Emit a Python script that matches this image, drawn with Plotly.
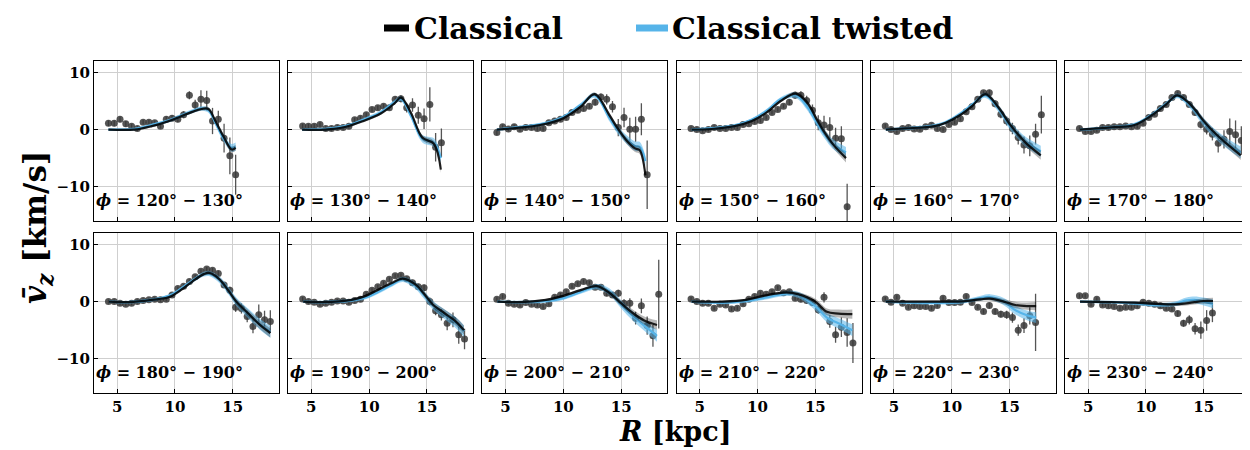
import numpy as np
import plotly.graph_objects as go
from plotly.subplots import make_subplots

# ---------------- data ----------------
R_BINS = [4.25, 4.75, 5.25, 5.75, 6.25, 6.75, 7.25, 7.75, 8.25, 8.75, 9.25, 9.75,
          10.25, 10.75, 11.25, 11.75, 12.25, 12.75, 13.25, 13.75, 14.25, 14.75,
          15.25, 15.75, 16.25, 16.75, 17.25, 17.75, 18.25]

PHI_BINS = ["120° − 130°", "130° − 140°", "140° − 150°", "150° − 160°",
            "160° − 170°", "170° − 180°", "180° − 190°", "190° − 200°",
            "200° − 210°", "210° − 220°", "220° − 230°", "230° − 240°"]

SERIES_NAMES = ["Classical", "Classical twisted"]

# observed mean vertical velocity (km/s) and errors per phi bin
V_120 = [1.1, 1.1, 1.8, 1.0, 0.6, 0.2, 1.3, 1.3, 1.2, 0.6, 1.8, 2.0, 1.8, 2.6, 6.0, 4.3,
         5.3, 5.1, 1.5, 1.8, -1.5, -4.6, -7.9]
E_120 = [0.5, 0.5, 0.5, 0.5, 0.4, 0.4, 0.4, 0.4, 0.4, 0.4, 0.5, 0.5, 0.5, 0.6, 0.7, 0.9,
         1.6, 1.7, 2.3, 1.5, 2.5, 3.2, 3.5]

V_130 = [0.64, 0.6, 0.6, 0.9, 0.2, 0.2, 0.35, 0.35, 0.6, 1.7, 2.0, 2.6, 3.5, 3.8, 4.1, 3.8,
         5.3, 5.4, 3.8, 4.3, 2.5, 1.9, 4.4, -3.1, -2.3]
E_130 = [0.4, 0.4, 0.4, 0.4, 0.4, 0.4, 0.4, 0.4, 0.4, 0.4, 0.4, 0.4, 0.4, 0.4, 0.4, 0.4,
         0.5, 0.6, 0.8, 1.2, 1.5, 1.8, 3.0, 2.5, 2.5]

V_140 = [-0.5, 0.5, 0.1, 0.5, 0.05, 0.35, 0.35, 0.2, 0.2, 1.2, 1.5, 1.8, 2.1, 3.0, 3.4, 3.7,
         4.1, 4.8, 5.7, 5.3, 4.0, 0.35, 2.1, 0.05, 0.05, 1.8, -7.9]
E_140 = [0.5, 0.4, 0.4, 0.4, 0.4, 0.4, 0.4, 0.4, 0.4, 0.4, 0.4, 0.4, 0.4, 0.4, 0.4, 0.4,
         0.4, 0.6, 0.6, 0.9, 1.0, 1.5, 1.7, 2.0, 2.2, 2.8, 6.0]

V_150 = [0.17, 0.0, -0.2, 0.0, 0.35, 0.17, 0.2, 0.35, 0.35, 0.9, 1.0, 1.4, 1.6, 2.1, 3.0, 3.5,
         4.1, 4.8, 6.0, 6.0, 5.1, 3.4, 1.2, 0.8, 0.35, -1.5, -1.6, -13.5]
E_150 = [0.35, 0.35, 0.35, 0.35, 0.35, 0.35, 0.35, 0.35, 0.35, 0.35, 0.35, 0.35, 0.35, 0.35,
         0.35, 0.35, 0.35, 0.5, 0.6, 0.7, 0.8, 1.0, 1.3, 1.6, 1.8, 1.8, 2.2, 4.0]

V_160 = [0.64, 0.0, -0.35, 0.2, 0.35, 0.1, 0.05, 0.5, 0.75, 0.2, 0.0, 0.9, 1.3, 1.9, 3.1, 4.0,
         5.3, 6.45, 6.45, 4.5, 2.7, 1.5, 0.2, -1.4, -2.7, -2.85, -0.8, 2.6]
E_160 = [0.35, 0.35, 0.35, 0.35, 0.35, 0.35, 0.35, 0.35, 0.35, 0.35, 0.35, 0.35, 0.35, 0.35,
         0.35, 0.35, 0.35, 0.4, 0.5, 0.6, 0.7, 0.8, 1.0, 1.2, 1.5, 1.8, 1.8, 3.3]

V_170 = [0.2, -0.35, -0.35, -0.1, 0.35, 0.35, 0.5, 0.5, 0.64, 0.5, 0.6, 1.1, 2.1, 2.7, 3.7, 4.4,
         5.6, 6.3, 5.6, 4.4, 3.0, 0.9, 0.05, -0.8, -2.4, -1.7, -0.35, -0.9, -1.9]
E_170 = [0.35, 0.35, 0.35, 0.35, 0.35, 0.35, 0.35, 0.35, 0.35, 0.35, 0.35, 0.35, 0.35, 0.35,
         0.35, 0.35, 0.35, 0.35, 0.4, 0.5, 0.6, 0.7, 0.9, 1.1, 1.6, 1.6, 2.3, 2.5, 2.5]

V_180 = [0.0, 0.0, -0.3, -0.45, -0.3, 0.0, 0.17, 0.3, 0.4, 0.3, 0.4, 1.16, 2.3, 2.7, 3.5, 4.35,
         5.3, 5.7, 5.5, 4.9, 2.9, 2.0, -1.0, -1.2, -2.6, -4.35, -2.3, -3.2, -3.5]
E_180 = [0.35, 0.35, 0.35, 0.35, 0.35, 0.35, 0.35, 0.35, 0.35, 0.35, 0.35, 0.35, 0.35, 0.35,
         0.35, 0.35, 0.35, 0.35, 0.4, 0.5, 0.5, 0.6, 0.8, 0.9, 1.0, 1.2, 1.8, 1.6, 2.0]

V_190 = [0.45, 0.0, -0.1, -0.45, -0.3, -0.1, 0.1, 0.1, -0.1, 0.17, 0.4, 1.3, 2.0, 2.6, 3.2, 3.9,
         4.5, 4.6, 4.0, 3.3, 2.6, 2.4, 0.0, -1.6, -2.3, -3.8, -3.2, -5.8, -6.55]
E_190 = [0.35, 0.35, 0.35, 0.35, 0.35, 0.35, 0.35, 0.35, 0.35, 0.35, 0.35, 0.35, 0.35, 0.35,
         0.35, 0.35, 0.35, 0.35, 0.4, 0.5, 0.5, 0.6, 0.7, 0.8, 1.0, 1.2, 1.3, 1.6, 1.8]

V_200 = [0.4, 0.87, -0.3, -0.45, -0.6, -0.17, -0.45, -0.6, -0.87, -0.4, 0.75, 1.16, 1.74, 2.7,
         3.1, 3.5, 3.3, 2.5, 2.5, 1.45, 1.16, 1.45, -0.3, -0.3, -2.9, -0.75, -4.2, -6.0, 1.3]
E_200 = [0.35, 0.35, 0.35, 0.35, 0.35, 0.35, 0.35, 0.35, 0.35, 0.35, 0.35, 0.35, 0.35, 0.35,
         0.35, 0.35, 0.35, 0.35, 0.4, 0.5, 0.5, 0.6, 0.7, 0.9, 1.1, 1.3, 1.6, 1.9, 6.0]

V_210 = [0.45, 0.0, -0.3, -0.3, -1.16, -0.45, -0.6, -1.3, -1.16, -0.4, 0.4, 0.87, 1.45, 1.3,
         1.74, 2.4, 1.56, 1.74, 0.6, 0.4, 0.17, -0.17, -1.45, 0.75, -3.5, -5.8, -4.5, -5.4, -7.25]
E_210 = [0.35, 0.35, 0.35, 0.35, 0.35, 0.35, 0.35, 0.35, 0.35, 0.35, 0.35, 0.35, 0.35, 0.35,
         0.35, 0.35, 0.35, 0.35, 0.4, 0.5, 0.5, 0.6, 0.7, 0.9, 1.1, 1.4, 1.7, 2.5, 3.5]

V_220 = [0.45, -0.1, 0.75, -0.3, -1.0, -0.75, -0.87, -0.87, -1.16, -0.7, 0.58, -0.17, -0.17,
         -0.1, 0.87, -0.17, -1.0, -1.74, -0.7, -1.74, -2.2, -2.3, -2.8, -5.0, -4.2, -2.5, -3.65]
E_220 = [0.35, 0.35, 0.35, 0.35, 0.35, 0.35, 0.35, 0.35, 0.35, 0.35, 0.35, 0.35, 0.35, 0.35,
         0.35, 0.35, 0.35, 0.4, 0.5, 0.5, 0.6, 0.7, 0.9, 1.0, 1.3, 1.5, 5.0]

V_230 = [1.0, 1.0, -0.45, 0.4, -0.6, -0.75, -0.87, -1.16, -1.0, -1.0, -0.75, -0.1, -0.3, -0.45,
         -0.75, -1.16, -1.3, -2.1, -3.8, -3.2, -4.75, -5.0, -3.3, -2.0]
E_230 = [0.35, 0.35, 0.35, 0.35, 0.35, 0.35, 0.35, 0.35, 0.35, 0.35, 0.35, 0.35, 0.35, 0.35,
         0.35, 0.35, 0.4, 0.5, 0.6, 0.8, 1.0, 1.5, 1.8, 1.6]

# model curves: knot radii, Classical, Classical twisted
MR_120 = [4.25, 6.5, 8.0, 9.5, 10.5, 11.5, 12.3, 12.9, 13.5, 14.2, 14.9, 15.25]
MC_120 = [0.0, 0.0, 0.6, 1.5, 2.3, 3.1, 3.6, 3.6, 1.5, -1.2, -3.5, -3.2]
MT_120 = [0.0, 0.1, 0.8, 1.6, 2.4, 3.2, 3.7, 3.4, 1.2, -1.5, -3.2, -3.0]

MR_130 = [4.2, 6.2, 8.0, 9.5, 11.0, 12.2, 12.75, 13.6, 14.6, 15.6, 16.2]
MC_130 = [0.0, 0.0, 0.5, 1.5, 2.8, 4.6, 5.6, 3.0, -1.4, -2.5, -7.0]
MT_130 = [0.0, 0.1, 0.6, 1.7, 3.0, 4.8, 5.4, 2.5, -1.6, -2.3, -5.0]

MR_140 = [4.25, 6.0, 8.0, 10.0, 11.5, 12.7, 14.0, 14.6, 15.5, 16.2, 16.6, 17.1]
MC_140 = [0.0, 0.3, 0.8, 2.0, 4.0, 6.2, 2.5, 0.5, -2.0, -3.3, -3.6, -8.0]
MT_140 = [0.0, 0.4, 0.9, 2.2, 4.3, 6.0, 2.0, 0.2, -1.8, -2.9, -3.0, -5.5]

MR_150 = [4.3, 6.0, 8.0, 9.5, 10.8, 12.0, 13.3, 14.3, 15.2, 15.8, 16.5, 17.65]
MC_150 = [0.0, 0.1, 0.6, 1.5, 3.0, 5.0, 6.3, 4.7, 1.5, -0.5, -2.5, -5.0]
MT_150 = [0.0, 0.2, 0.7, 1.7, 3.3, 5.3, 6.0, 4.0, 1.0, -0.8, -2.5, -4.0]

MR_160 = [4.3, 6.0, 8.5, 9.5, 10.7, 11.8, 12.9, 14.0, 15.0, 15.8, 16.5, 17.7]
MC_160 = [0.0, 0.2, 0.6, 1.2, 2.5, 4.2, 6.2, 4.0, 1.0, -1.0, -2.5, -4.5]
MT_160 = [0.0, 0.2, 0.7, 1.3, 2.7, 4.4, 6.0, 3.8, 0.8, -1.0, -2.3, -3.8]

MR_170 = [4.3, 7.0, 9.0, 10.5, 11.8, 12.7, 13.8, 15.0, 16.0, 17.0, 18.2]
MC_170 = [0.0, 0.4, 0.8, 2.5, 4.5, 6.0, 4.5, 1.5, -0.7, -2.5, -4.5]
MT_170 = [0.0, 0.4, 0.9, 2.6, 4.6, 5.9, 4.3, 1.3, -0.8, -2.4, -4.0]

MR_180 = [4.3, 6.0, 8.0, 9.5, 10.5, 11.5, 12.5, 13.0, 13.8, 14.6, 15.3, 16.3, 17.3, 18.25]
MC_180 = [0.0, -0.1, 0.3, 0.8, 2.0, 3.5, 4.8, 5.0, 4.0, 2.0, 0.0, -2.0, -4.0, -5.5]
MT_180 = [0.0, -0.1, 0.3, 1.0, 2.2, 3.6, 4.8, 4.9, 3.9, 2.0, 0.0, -2.0, -3.9, -5.3]

MR_190 = [4.3, 6.0, 8.5, 9.7, 10.7, 12.0, 12.9, 14.0, 14.7, 15.5, 16.5, 17.5, 18.2]
MC_190 = [0.0, -0.1, 0.3, 1.0, 2.0, 3.3, 4.0, 3.0, 1.5, -0.5, -2.0, -3.5, -5.0]
MT_190 = [0.0, -0.1, 0.2, 0.7, 1.6, 3.0, 3.9, 2.8, 1.3, -0.6, -2.2, -3.7, -5.2]

MR_200 = [4.3, 6.0, 8.5, 10.0, 11.5, 12.9, 14.0, 15.0, 16.0, 17.0, 18.1]
MC_200 = [0.0, -0.1, 0.3, 1.0, 2.0, 2.7, 1.5, -0.3, -2.0, -3.3, -4.1]
MT_200 = [0.0, -0.1, 0.1, 0.6, 1.7, 2.6, 1.7, -0.5, -2.5, -4.2, -6.0]

MR_210 = [4.3, 7.0, 9.0, 10.5, 12.5, 13.5, 15.0, 16.0, 17.0, 18.2]
MC_210 = [0.0, 0.0, 0.3, 1.0, 1.6, 1.3, 0.0, -1.8, -2.1, -2.2]
MT_210 = [0.0, -0.2, 0.1, 0.6, 1.4, 1.2, -0.8, -2.8, -3.8, -5.0]

MR_220 = [4.3, 7.0, 9.5, 11.0, 12.5, 13.3, 14.5, 15.5, 16.5, 17.3]
MC_220 = [0.0, 0.0, 0.0, 0.05, 0.4, 0.5, 0.0, -0.6, -0.8, -0.8]
MT_220 = [0.0, -0.2, -0.2, 0.0, 0.6, 0.8, 0.0, -1.5, -2.4, -2.8]

MR_230 = [4.3, 7.0, 9.0, 11.0, 12.5, 13.5, 14.2, 15.0, 15.8]
MC_230 = [0.0, -0.1, -0.2, -0.4, -0.5, -0.3, -0.1, 0.1, 0.1]
MT_230 = [0.0, -0.1, -0.3, -0.6, -0.4, 0.2, 0.3, 0.0, -0.4]

# model scatter band half-widths vs radius
BAND_R = [4.0, 12.0, 15.0, 19.0]
BAND_C = [0.15, 0.25, 0.5, 0.9]
BAND_T = [0.2, 0.35, 0.7, 1.1]

PANELS = [
    (V_120, E_120, MR_120, MC_120, MT_120),
    (V_130, E_130, MR_130, MC_130, MT_130),
    (V_140, E_140, MR_140, MC_140, MT_140),
    (V_150, E_150, MR_150, MC_150, MT_150),
    (V_160, E_160, MR_160, MC_160, MT_160),
    (V_170, E_170, MR_170, MC_170, MT_170),
    (V_180, E_180, MR_180, MC_180, MT_180),
    (V_190, E_190, MR_190, MC_190, MT_190),
    (V_200, E_200, MR_200, MC_200, MT_200),
    (V_210, E_210, MR_210, MC_210, MT_210),
    (V_220, E_220, MR_220, MC_220, MT_220),
    (V_230, E_230, MR_230, MC_230, MT_230),
]

# ---------------- style ----------------
FONT = "DejaVu Serif"
BLUE = "#56B4E9"
BLUE_BAND = "rgba(86,180,233,0.55)"
BLACK_BAND = "rgba(0,0,0,0.28)"
PT = "rgba(55,55,55,0.85)"

W, H = 1250, 450
ML, MR_, MT, MB = 86, 8, 53, 65
PW = W - ML - MR_
PH = H - MT - MB


def px_x(px):
    return (px - ML) / PW


def px_y(py):
    return (H - MB - py) / PH


fig = make_subplots(rows=2, cols=6,
                    horizontal_spacing=9.2 / PW,
                    vertical_spacing=12 / PH)

for i, (v, e, mr, mc, mt) in enumerate(PANELS):
    row, col = i // 6 + 1, i % 6 + 1
    r = R_BINS[:len(v)]
    fig.add_trace(go.Scatter(
        x=r, y=v, mode="markers",
        marker=dict(color=PT, size=7),
        error_y=dict(type="data", array=e, color=PT, thickness=1.3, width=0),
        showlegend=False, hoverinfo="skip"), row=row, col=col)

    mr_a = np.array(mr)
    hwc = np.interp(mr_a, BAND_R, BAND_C)
    hwt = np.interp(mr_a, BAND_R, BAND_T)
    mc_a = np.array(mc)
    mt_a = np.array(mt)

    # twisted band + line (underneath)
    fig.add_trace(go.Scatter(x=mr, y=mt_a - hwt, mode="lines",
                             line=dict(width=0, shape="spline", color=BLUE),
                             showlegend=False, hoverinfo="skip"), row=row, col=col)
    fig.add_trace(go.Scatter(x=mr, y=mt_a + hwt, mode="lines", fill="tonexty",
                             fillcolor=BLUE_BAND,
                             line=dict(width=0, shape="spline", color=BLUE),
                             showlegend=False, hoverinfo="skip"), row=row, col=col)
    fig.add_trace(go.Scatter(x=mr, y=mt, mode="lines", name=SERIES_NAMES[1],
                             line=dict(width=2.2, shape="spline", color=BLUE),
                             showlegend=False, hoverinfo="skip"), row=row, col=col)
    # classical band + line (on top)
    fig.add_trace(go.Scatter(x=mr, y=mc_a - hwc, mode="lines",
                             line=dict(width=0, shape="spline", color="black"),
                             showlegend=False, hoverinfo="skip"), row=row, col=col)
    fig.add_trace(go.Scatter(x=mr, y=mc_a + hwc, mode="lines", fill="tonexty",
                             fillcolor=BLACK_BAND,
                             line=dict(width=0, shape="spline", color="black"),
                             showlegend=False, hoverinfo="skip"), row=row, col=col)
    fig.add_trace(go.Scatter(x=mr, y=mc, mode="lines", opacity=0.85, name=SERIES_NAMES[0],
                             line=dict(width=2.2, shape="spline", color="black"),
                             showlegend=False, hoverinfo="skip"), row=row, col=col)

    fig.add_annotation(text="<b><i>ϕ</i> = " + PHI_BINS[i] + "</b>",
                       xref="x domain", yref="y domain", x=0.0, y=0.055,
                       xanchor="left", yanchor="bottom", showarrow=False,
                       font=dict(family=FONT, size=16, color="black"),
                       row=row, col=col)

# ---- manual legend (shapes + text, so margins stay fixed) ----
LEG_Y = px_y(20)
legend_items = [(SERIES_NAMES[0], "black", 376, 401, 405),
                (SERIES_NAMES[1], BLUE, 628, 660, 663)]
for name, color, x0, x1, xt in legend_items:
    fig.add_shape(type="line", xref="paper", yref="paper",
                  x0=px_x(x0), x1=px_x(x1), y0=LEG_Y, y1=LEG_Y,
                  line=dict(color=color, width=7))
    fig.add_annotation(text="<b>" + name + "</b>", xref="paper", yref="paper",
                       x=px_x(xt), y=LEG_Y, xanchor="left", yanchor="middle",
                       showarrow=False, borderpad=0,
                       font=dict(family=FONT, size=30, color="black"))

tickfont = dict(family=FONT, size=15, color="black", weight="bold")
for i in range(12):
    row, col = i // 6 + 1, i % 6 + 1
    fig.update_xaxes(range=[3, 19], tickvals=[5, 10, 15], ticks="inside", ticklen=4,
                     tickcolor="black", showgrid=True, gridcolor="#cfcfcf", gridwidth=1,
                     zeroline=False, showline=True, linecolor="black", linewidth=1,
                     mirror=True, showticklabels=(row == 2), tickfont=tickfont,
                     row=row, col=col)
    fig.update_yaxes(range=[-16, 12], tickvals=[-10, 0, 10], ticks="inside", ticklen=4,
                     tickcolor="black", showgrid=True, gridcolor="#cfcfcf", gridwidth=1,
                     zeroline=False, showline=True, linecolor="black", linewidth=1,
                     mirror=True, showticklabels=(col == 1), tickfont=tickfont,
                     row=row, col=col)

fig.add_annotation(text="<b><i>v̄</i><sub><i>z</i></sub> [km/s]</b>",
                   xref="paper", yref="paper", x=px_x(29), y=0.5,
                   xanchor="center", yanchor="middle", textangle=-90, showarrow=False,
                   font=dict(family=FONT, size=31, color="black"))
fig.add_annotation(text="<b><i>R</i> [kpc]</b>",
                   xref="paper", yref="paper", x=px_x(667), y=px_y(424),
                   xanchor="center", yanchor="middle", showarrow=False,
                   font=dict(family=FONT, size=27, color="black"))

fig.update_layout(
    width=W, height=H,
    margin=dict(l=ML, r=MR_, t=MT, b=MB, autoexpand=False),
    plot_bgcolor="white", paper_bgcolor="white",
    font=dict(family=FONT, color="black"),
    showlegend=False,
)

fig.write_html("out.html")
